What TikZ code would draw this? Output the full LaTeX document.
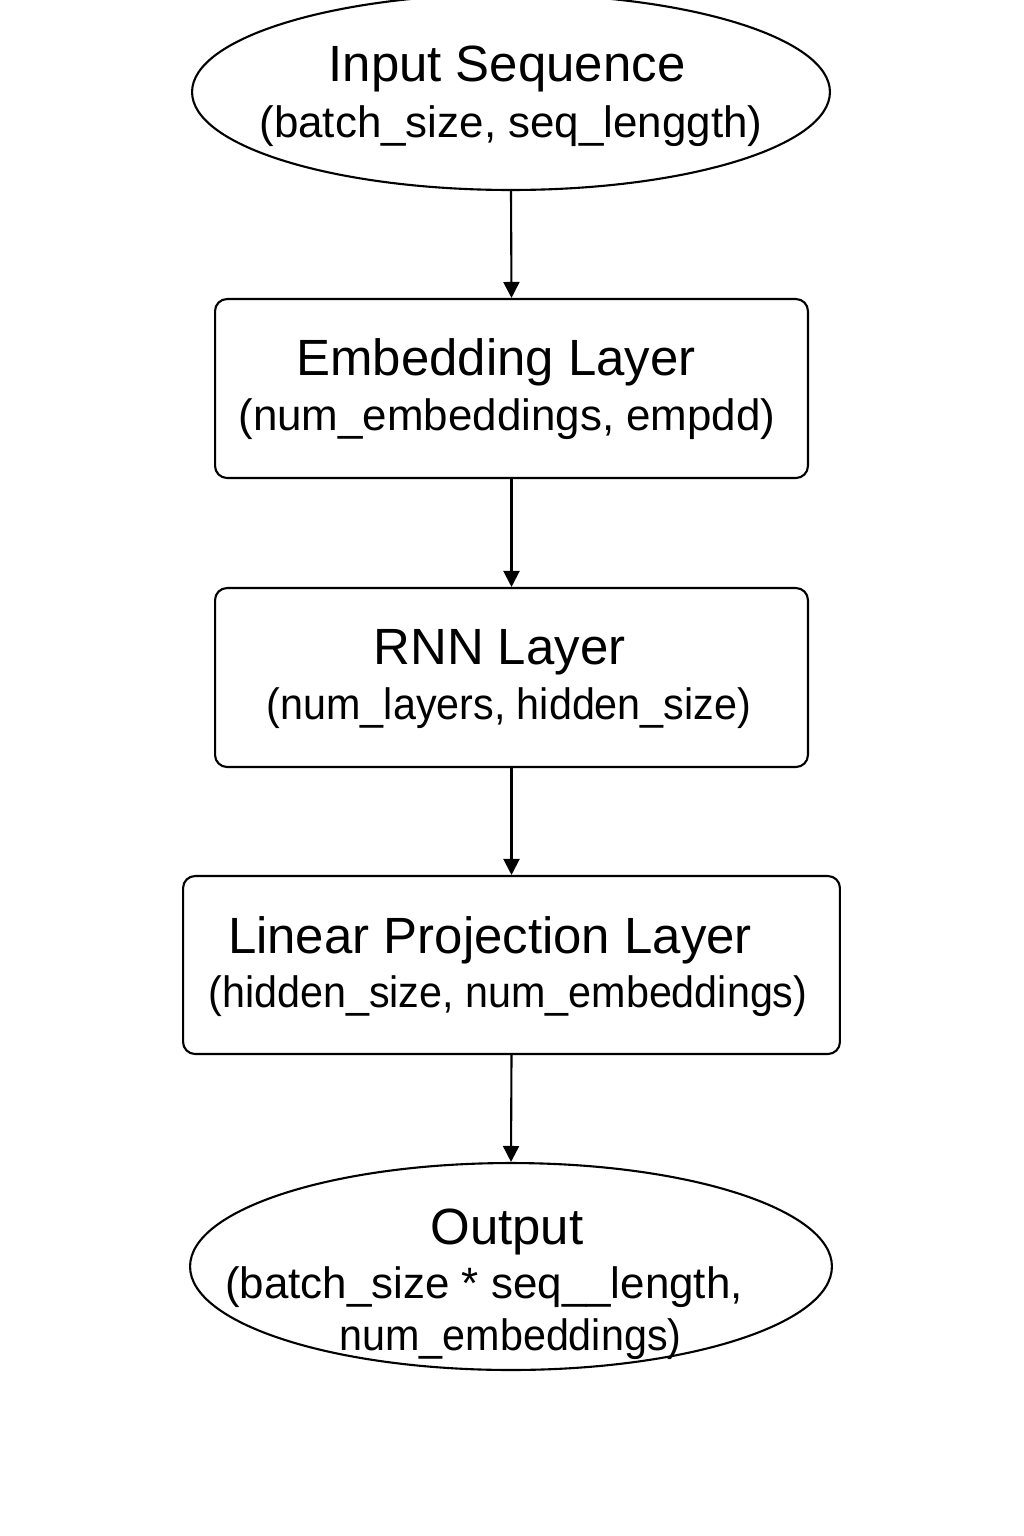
\documentclass[tikz,border=0pt]{standalone}
\usepackage{fontspec}
\setmainfont{Liberation Sans}
\usetikzlibrary{shapes.geometric,arrows.meta}
\newcommand{\narrowtext}[1]{\scalebox{0.94}[1]{#1}}
\tikzset{
  shapeline/.style={draw=black, line width=1.2pt, inner sep=0pt},
  ell/.style={shapeline, ellipse},
  layerbox/.style={shapeline, rectangle, rounded corners=0.24cm},
  big/.style={inner sep=0pt, font=\fontsize{29}{32}\selectfont},
  small/.style={inner sep=0pt, font=\fontsize{25}{30}\selectfont},
  flow/.style={line width=1.2pt, -{Triangle[width=0.32cm,length=0.32cm]}}
}
\begin{document}
\begin{tikzpicture}[x=0.02cm,y=-0.02cm]
\useasboundingbox (0,0) rectangle (1024,1536);
\fill[white] (0,0) rectangle (1024,1536);
% shapes
\node[ell, minimum width=12.76cm, minimum height=3.92cm] (inp) at (511,92) {};
\node[layerbox, minimum width=11.86cm, minimum height=3.58cm] (emb) at (511.5,388.5) {};
\node[layerbox, minimum width=11.86cm, minimum height=3.58cm] (rnn) at (511.5,677.5) {};
\node[layerbox, minimum width=13.14cm, minimum height=3.56cm] (lin) at (511.5,965) {};
\node[ell, minimum width=12.84cm, minimum height=4.14cm] (out) at (511,1266.5) {};
% texts
\node[big] (inpA) at (507,69) {Input Sequence};
\node[small] (inpB) at (511,126) {(batch\_size, seq\_lenggth)};
\node[big] (embA) at (496,362) {Embedding Layer};
\node[small] (embB) at (507,419) {(num\_embeddings, empdd)};
\node[big] (rnnA) at (499.5,652) {RNN Layer};
\node[small] (rnnB) at (509,708) {\narrowtext{(num\_layers, hidden\_size)}};
\node[big] (linA) at (490,940) {Linear Projection Layer};
\node[small] (linB) at (508,996) {\narrowtext{(hidden\_size, num\_embeddings)}};
\node[big] (outA) at (507,1232) {Output};
\node[small] (outB) at (484,1287) {(batch\_size * seq\_\_length,};
\node[small] (outC) at (510.5,1339) {\narrowtext{num\_embeddings)}};
% connectors
\draw[flow] (inp.south) -- (emb.north);
\draw[flow] (emb.south) -- (rnn.north);
\draw[flow] (rnn.south) -- (lin.north);
\draw[flow] (lin.south) -- (out.north);
\end{tikzpicture}
\end{document}
